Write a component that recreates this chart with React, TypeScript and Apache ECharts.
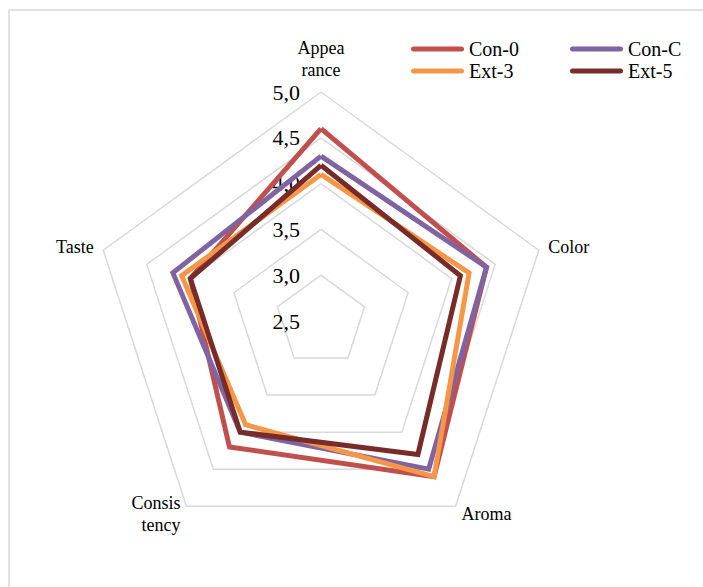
import React, { useEffect, useRef } from "react";
import * as echarts from "echarts";

const categories = ["Appea\nrance", "Color", "Aroma", "Consis\ntency", "Taste"];
const seriesNames = ["Con-0", "Con-C", "Ext-3", "Ext-5"];
const con0 = [4.6, 4.4, 4.6, 4.2, 4.0];
const conC = [4.3, 4.4, 4.5, 4.0, 4.2];
const ext3 = [4.1, 4.2, 4.6, 3.9, 4.1];
const ext5 = [4.2, 4.1, 4.3, 4.0, 4.0];
const axisMin = 2.5;
const axisMax = 5.0;
const colors = ["#C0504D", "#8064A2", "#F79646", "#772C2A"];

const FONT = "Liberation Serif";
const PILL = "path://M2.5,0 H50.5 A2.5,2.5 0 0 1 50.5,5 H2.5 A2.5,2.5 0 0 1 2.5,0 Z";

// radar in ECharts runs counter-clockwise; the reference runs clockwise
const order = [0, 4, 3, 2, 1];

export default function App() {
  const ref = useRef<HTMLDivElement>(null);
  useEffect(() => {
    if (!ref.current) return;
    const chart = echarts.init(ref.current, null, { renderer: "svg" });
    const values = [con0, conC, ext3, ext5];
    const legendPos = [
      { left: 411, top: 39 },
      { left: 570, top: 39 },
      { left: 411, top: 61 },
      { left: 570, top: 61 },
    ];
    chart.setOption({
      animation: false,
      backgroundColor: "#ffffff",
      graphic: [
        {
          type: "rect",
          shape: { x: 9, y: 10, width: 800, height: 700 },
          style: { fill: "none", stroke: "#D9D9D9", lineWidth: 1.5 },
          silent: true,
        },
      ],
      legend: seriesNames.map((n, i) => ({
        data: [n],
        left: legendPos[i].left,
        top: legendPos[i].top,
        padding: 0,
        itemWidth: 53,
        itemHeight: 5.5,
        itemGap: 5,
        icon: PILL,
        selectedMode: false,
        textStyle: { fontFamily: FONT, fontSize: 20, color: "#000" },
      })),
      radar: {
        center: [321, 321],
        radius: 229,
        startAngle: 90,
        shape: "polygon",
        splitNumber: 5,
        nameGap: 10,
        axisName: { color: "#000", fontFamily: FONT, fontSize: 18, lineHeight: 22 },
        splitLine: { lineStyle: { color: "#D9D9D9", width: 1.5 } },
        splitArea: { show: false },
        axisLine: { show: false },
        axisTick: { show: false },
        axisLabel: { show: false },
        indicator: order.map((k, i) => ({
          name: categories[k],
          min: axisMin,
          max: axisMax,
          axisLabel:
            i === 0
              ? {
                  show: true,
                  color: "#000",
                  fontFamily: FONT,
                  fontSize: 22,
                  margin: 21,
                  showMinLabel: true,
                  formatter: (v: number) => v.toFixed(1).replace(".", ","),
                }
              : { show: false },
        })),
      },
      series: [
        {
          type: "radar",
          symbol: "none",
          data: seriesNames.map((n, i) => ({
            name: n,
            value: order.map((k) => values[i][k]),
            lineStyle: { color: colors[i], width: 5, join: "miter" },
            itemStyle: { color: colors[i] },
          })),
        },
      ],
    });
    return () => chart.dispose();
  }, []);
  return (
    <div
      ref={ref}
      style={{ position: "absolute", left: 0, top: 0, width: 703, height: 587 }}
    />
  );
}
